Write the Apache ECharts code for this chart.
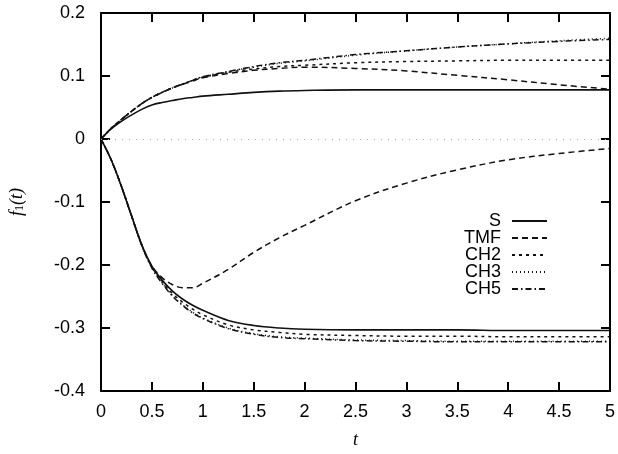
<!DOCTYPE html>
<html>
<head>
<meta charset="utf-8">
<script src="https://cdn.jsdelivr.net/npm/echarts@6/dist/echarts.min.js"></script>
<style>html,body{margin:0;padding:0;background:#fff;}#c{width:618px;height:454px;}</style>
</head>
<body>
<div id="c"></div>
<script>
const t = [0, 0.1, 0.2, 0.3, 0.4, 0.5, 0.6, 0.7, 0.8, 0.9, 1.0, 1.25, 1.5, 1.75, 2, 2.5, 3, 3.5, 4, 4.5, 5];

const S_upper   = [0, 0.016, 0.028, 0.038, 0.047, 0.054, 0.058, 0.061, 0.064, 0.066, 0.068, 0.071, 0.074, 0.076, 0.077, 0.078, 0.078, 0.078, 0.078, 0.078, 0.078];
const TMF_upper = [0, 0.017, 0.031, 0.044, 0.056, 0.066, 0.074, 0.081, 0.087, 0.092, 0.097, 0.104, 0.109, 0.112, 0.114, 0.112, 0.108, 0.101, 0.094, 0.086, 0.079];
const CH2_upper = [0, 0.017, 0.031, 0.044, 0.056, 0.066, 0.074, 0.081, 0.087, 0.093, 0.098, 0.106, 0.111, 0.115, 0.117, 0.121, 0.123, 0.124, 0.125, 0.125, 0.125];
const CH3_upper = [0, 0.017, 0.031, 0.044, 0.056, 0.066, 0.074, 0.081, 0.087, 0.093, 0.098, 0.107, 0.114, 0.120, 0.124, 0.133, 0.140, 0.146, 0.151, 0.156, 0.160];
const CH5_upper = [0, 0.017, 0.031, 0.044, 0.056, 0.066, 0.074, 0.081, 0.087, 0.093, 0.099, 0.107, 0.115, 0.121, 0.125, 0.134, 0.140, 0.146, 0.151, 0.155, 0.158];

const S_lower   = [0, -0.033, -0.075, -0.122, -0.168, -0.202, -0.224, -0.241, -0.254, -0.264, -0.272, -0.288, -0.296, -0.300, -0.302, -0.303, -0.303, -0.303, -0.304, -0.304, -0.304];
const TMF_lower = [0, -0.033, -0.075, -0.122, -0.168, -0.202, -0.220, -0.231, -0.236, -0.236, -0.229, -0.207, -0.180, -0.157, -0.137, -0.098, -0.070, -0.049, -0.033, -0.023, -0.015];
const CH2_lower = [0, -0.033, -0.075, -0.122, -0.168, -0.203, -0.226, -0.245, -0.259, -0.270, -0.279, -0.295, -0.303, -0.307, -0.310, -0.312, -0.313, -0.313, -0.314, -0.314, -0.314];
const CH3_lower = [0, -0.033, -0.075, -0.122, -0.168, -0.204, -0.228, -0.248, -0.263, -0.275, -0.284, -0.300, -0.309, -0.314, -0.316, -0.319, -0.320, -0.321, -0.321, -0.321, -0.321];
const CH5_lower = [0, -0.033, -0.075, -0.122, -0.169, -0.205, -0.229, -0.249, -0.264, -0.276, -0.285, -0.301, -0.310, -0.315, -0.317, -0.320, -0.321, -0.322, -0.322, -0.322, -0.322];

const names = ['S', 'TMF', 'CH2', 'CH3', 'CH5'];
const xTicks = [0, 0.5, 1, 1.5, 2, 2.5, 3, 3.5, 4, 4.5, 5];
const yTicks = [-0.4, -0.3, -0.2, -0.1, 0, 0.1, 0.2];

const styles = {
  S:   { type: 'solid', width: 1.6 },
  TMF: { type: [6, 4], width: 1.5 },
  CH2: { type: [3, 4], width: 1.5 },
  CH3: { type: [1, 3], width: 1.5 },
  CH5: { type: [6, 3, 1.5, 3], width: 1.5 }
};
const curves = {
  S: [S_upper, S_lower], TMF: [TMF_upper, TMF_lower], CH2: [CH2_upper, CH2_lower],
  CH3: [CH3_upper, CH3_lower], CH5: [CH5_upper, CH5_lower]
};

const font = 'Liberation Sans, Arial, sans-serif';
const series = [];
names.forEach(n => {
  curves[n].forEach((arr, k) => {
    const s = {
      name: n, type: 'line', xAxisIndex: 0, yAxisIndex: 0,
      data: t.map((x, i) => [x, arr[i]]),
      showSymbol: false, symbol: 'none', smooth: 0.35,
      lineStyle: { color: '#111', type: styles[n].type, width: styles[n].width },
      itemStyle: { color: '#111' },
      silent: true, animation: false, z: 3
    };
    if (n === 'S' && k === 0) {
      s.markLine = {
        silent: true, symbol: 'none', label: { show: false },
        lineStyle: { color: '#aaa', type: [1, 6], width: 1 },
        data: [{ yAxis: 0 }]
      };
    }
    series.push(s);
  });
});

const axisCommon = {
  type: 'value',
  axisLine: { show: true, onZero: false, lineStyle: { color: '#000', width: 2 } },
  axisTick: { show: true, inside: true, length: 9, lineStyle: { color: '#000', width: 2 } },
  splitLine: { show: false }
};

const chart = echarts.init(document.getElementById('c'), null, { renderer: 'canvas' });
chart.setOption({
  backgroundColor: '#fff',
  animation: false,
  grid: { left: 93, right: 6, top: 13, bottom: 51, containLabel: false },
  legend: {
    orient: 'vertical', right: 65, top: 207, align: 'right',
    itemWidth: 35, itemHeight: 12, itemGap: -1,
    data: names,
    itemStyle: { opacity: 0 },
    textStyle: { fontFamily: font, fontSize: 18, lineHeight: 18, color: '#000', width: 48, align: 'right', padding: [0, 6, 0, 0] },
    inactiveColor: '#111', selectedMode: false
  },
  xAxis: [
    Object.assign({}, axisCommon, {
      min: xTicks[0], max: xTicks[xTicks.length - 1], interval: 0.5, position: 'bottom',
      axisLabel: { fontFamily: font, fontSize: 18, color: '#000', margin: 12 },
      name: 't', nameLocation: 'middle', nameGap: 40,
      nameTextStyle: { fontFamily: 'Liberation Serif, serif', fontStyle: 'italic', fontSize: 18, color: '#000' }
    }),
    Object.assign({}, axisCommon, {
      min: 0, max: 5, interval: 0.5, position: 'top', axisLabel: { show: false }
    })
  ],
  yAxis: [
    Object.assign({}, axisCommon, {
      min: yTicks[0], max: yTicks[yTicks.length - 1], interval: 0.1, position: 'left',
      axisLabel: { fontFamily: font, fontSize: 18, color: '#000', margin: 16,
        formatter: v => (Math.abs(v) < 1e-9 ? '0' : (+v.toFixed(1)).toString()) },
      name: '{i|f}{s|1}{i|(t)}', nameLocation: 'middle', nameGap: 75, nameRotate: 90,
      nameTextStyle: {
        color: '#000',
        rich: {
          i: { fontFamily: 'Liberation Serif, serif', fontStyle: 'italic', fontSize: 18, color: '#000' },
          s: { fontFamily: 'Liberation Serif, serif', fontSize: 12, color: '#000', verticalAlign: 'bottom', padding: [6, 0, 0, 0] }
        }
      }
    }),
    Object.assign({}, axisCommon, {
      min: -0.4, max: 0.2, interval: 0.1, position: 'right', axisLabel: { show: false }
    })
  ],
  series: series
});
</script>
</body>
</html>
